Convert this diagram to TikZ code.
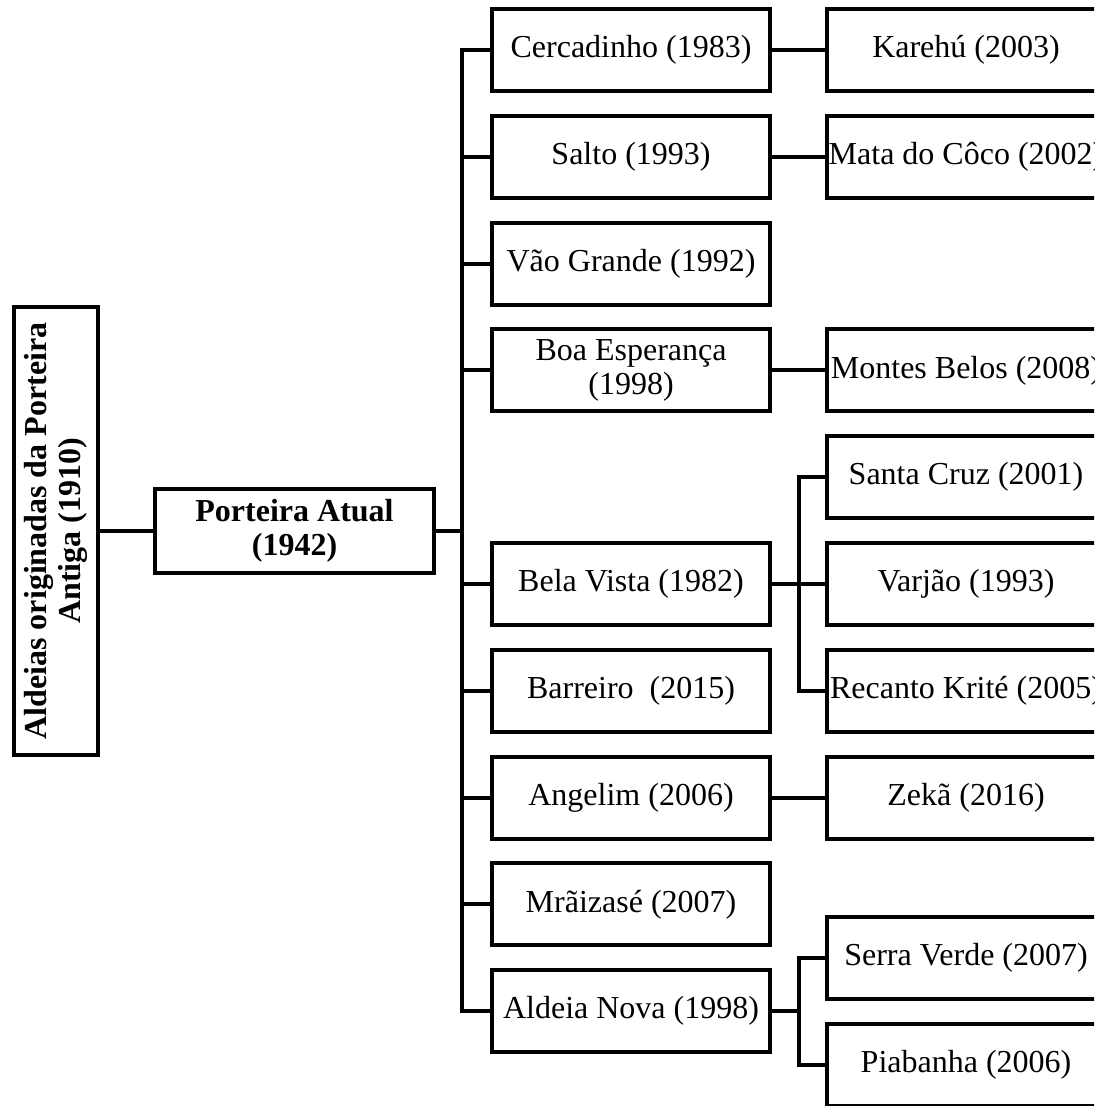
\documentclass[tikz,border=0pt]{standalone}
\usepackage{fontspec}
\setmainfont{Liberation Serif}
\usetikzlibrary{positioning}
\tikzset{
tbox/.style={draw=black,line width=2pt,minimum width=139pt,minimum height=41pt,inner sep=0pt,outer sep=0pt,align=center,font=\fontsize{16}{17}\selectfont},
rootbox/.style={tbox,minimum width=139.5pt,minimum height=42pt,font=\fontsize{16}{17}\selectfont\bfseries},
sidebox/.style={tbox,rotate=90,minimum width=224pt,minimum height=42pt,font=\fontsize{16}{17}\selectfont\bfseries},
link/.style={draw=black,line width=2pt}
}
\begin{document}
\begin{tikzpicture}[x=0.5pt,y=-0.5pt]
\clip (0,0) rectangle (1094,1106);
% origem
\node[sidebox] (side) at (56,531) {Aldeias originadas da Porteira\\Antiga (1910)};
\node[rootbox,right=28.5pt of side.south] (port) {Porteira Atual\\(1942)};
% primeira coluna
\node[tbox] (cer) at (631,50) {Cercadinho (1983)};
\node[tbox,below=12.4pt of cer] (salto) {Salto (1993)};
\node[tbox,below=12.4pt of salto] (vao) {Vão Grande (1992)};
\node[tbox,below=12.4pt of vao] (boa) {Boa Esperança\\(1998)};
\node[tbox,below=65.8pt of boa] (bela) {Bela Vista (1982)};
\node[tbox,below=12.4pt of bela] (barreiro) {Barreiro~~(2015)};
\node[tbox,below=12.4pt of barreiro] (angelim) {Angelim (2006)};
\node[tbox,below=12.4pt of angelim] (mraiza) {Mrãizasé (2007)};
\node[tbox,below=12.4pt of mraiza] (aldeia) {Aldeia Nova (1998)};
% segunda coluna
\node[tbox,right=28.5pt of cer] (karehu) {Karehú (2003)};
\node[tbox,right=28.5pt of salto] (mata) {Mata do Côco (2002)};
\node[tbox,right=28.5pt of boa] (montes) {Montes Belos (2008)};
\node[tbox,right=28.5pt of bela] (varjao) {Varjão (1993)};
\node[tbox,above=12.4pt of varjao] (santa) {Santa Cruz (2001)};
\node[tbox,below=12.4pt of varjao] (recanto) {Recanto Krité (2005)};
\node[tbox,right=28.5pt of angelim] (zeka) {Zekã (2016)};
\node[tbox,right=28.5pt of aldeia,yshift=26.7pt] (serra) {Serra Verde (2007)};
\node[tbox,below=12.4pt of serra] (piabanha) {Piabanha (2006)};
% ligacoes
\draw[link] (side.south) -- (port.west);
\draw[link] (cer.west) -- ++(-15pt,0) coordinate (trk) |- (aldeia.west);
\draw[link] (port.east) -- (port.east -| trk);
\foreach \n in {salto,vao,boa,bela,barreiro,angelim,mraiza}
  \draw[link] (\n.west) -- (\n.west -| trk);
\foreach \a/\b in {cer/karehu,salto/mata,boa/montes,bela/varjao,angelim/zeka}
  \draw[link] (\a.east) -- (\b.west);
\draw[link] (santa.west) -- ++(-14.25pt,0) |- (recanto.west);
\draw[link] (serra.west) -- ++(-14.25pt,0) coordinate (asub) |- (piabanha.west);
\draw[link] (aldeia.east) -- (aldeia.east -| asub);
\end{tikzpicture}
\end{document}
